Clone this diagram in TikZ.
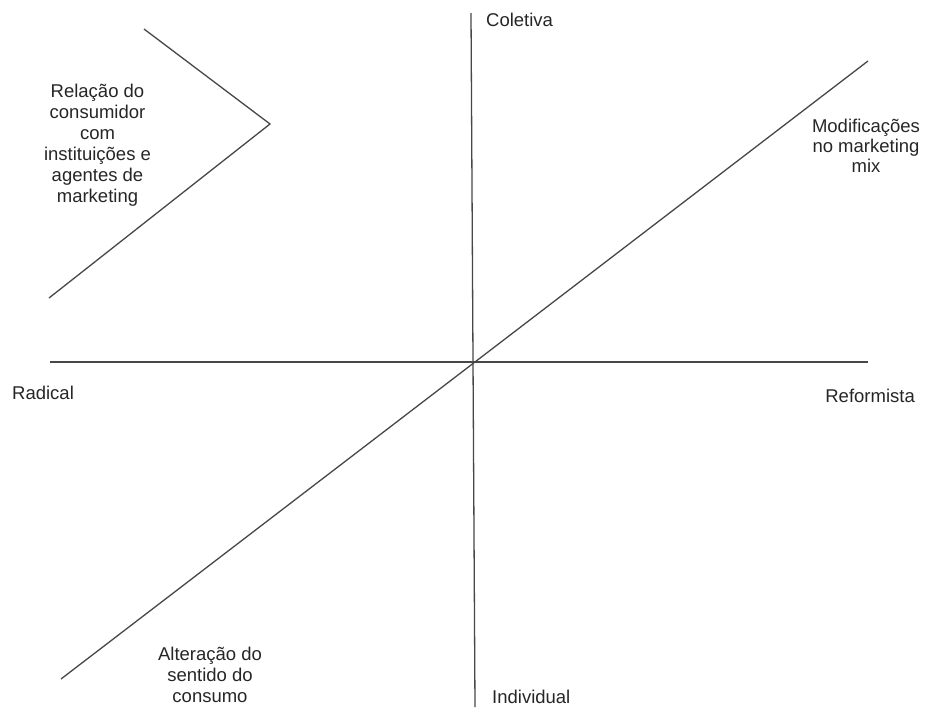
\documentclass[tikz,border=0pt]{standalone}
\usepackage{fontspec}
\setmainfont{Liberation Sans}
\begin{document}
\begin{tikzpicture}[x=1pt,y=-1pt,
  axis/.style={draw=black!72, line width=1.3pt},
  lbl/.style={font=\fontsize{18.5}{21}\selectfont, text=black!85, inner sep=0pt, align=center}]
\useasboundingbox (0,0) rectangle (926,707);
% axes end points
\coordinate (vtop) at (471,13);
\coordinate (vbot) at (475,707);
\coordinate (hl) at (50,362);
\coordinate (hr) at (868,362);
\coordinate (dlo) at (61,679);
\coordinate (dhi) at (868,61);
\coordinate (ctop) at (144,29);
\coordinate (ctip) at (270,124);
\coordinate (cbot) at (49,298);
\draw[axis] (vtop) -- (vbot);
\draw[axis] (hl) -- (hr);
\draw[axis] (dlo) -- (dhi);
\draw[axis, line join=miter] (ctop) -- (ctip) -- (cbot);
% labels
\node[lbl, anchor=west] (coletiva) at (486,20) {Coletiva};
\node[lbl, anchor=west] (individual) at (492,697) {Individual};
\node[lbl, anchor=west] (radical) at (12,393) {Radical};
\node[lbl, anchor=east] (reformista) at (915,396) {Reformista};
\node[lbl, font=\fontsize{18.5}{20}\selectfont] (modif) at (866,146) {Modificações\\no marketing\\mix};
\node[lbl] (relacao) at (97.5,145) {Relação do\\consumidor\\com\\instituições e\\agentes de\\marketing};
\node[lbl] (alter) at (210,675) {Alteração do\\sentido do\\consumo};
\end{tikzpicture}
\end{document}
